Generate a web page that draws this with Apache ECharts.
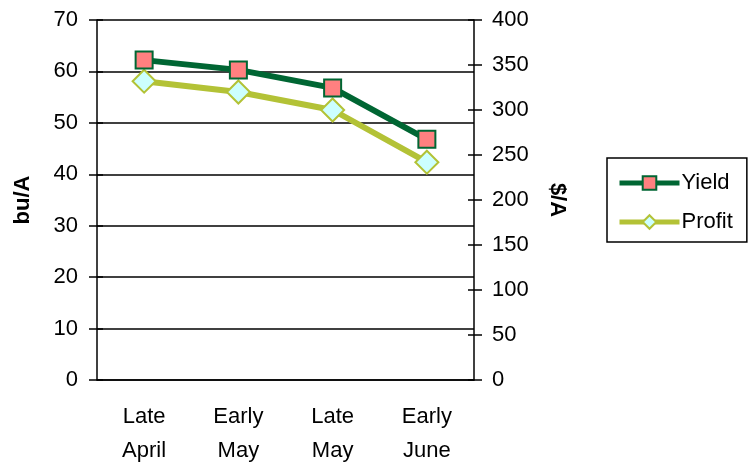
<!DOCTYPE html>
<html><head><meta charset="utf-8">
<script src="https://cdn.jsdelivr.net/npm/echarts@6/dist/echarts.min.js"></script>
<style>html,body{margin:0;padding:0;background:#fff}#c{width:751px;height:468px}</style>
</head><body><div id="c"></div>
<script>
var categories = ['Late\nApril', 'Early\nMay', 'Late\nMay', 'Early\nJune'];
var yieldValues = [62.2, 60.3, 56.8, 46.8];
var profitValues = [332, 320, 300, 242];
var leftTicks = {min: 0, max: 70, interval: 10};
var rightTicks = {min: 0, max: 400, interval: 50};
var font = 'Liberation Sans, Arial, sans-serif';
var chart = echarts.init(document.getElementById('c'));
var tickStyle = {color: '#000', width: 1.5};
function innerAxis(t, pos) {
  return {
    type: 'value', min: t.min, max: t.max, interval: t.interval, position: pos,
    axisLine: {show: false}, axisLabel: {show: false}, splitLine: {show: false},
    axisTick: {show: true, inside: true, length: 6, lineStyle: tickStyle}
  };
}
chart.setOption({
  animation: false,
  grid: {left: 97, right: 277, top: 20, bottom: 87},
  legend: {
    orient: 'vertical', left: 607, top: 158,
    padding: [12, 14, 7, 10], itemGap: 13,
    borderColor: '#000', borderWidth: 1.5,
    itemWidth: 60, itemHeight: 17,
    lineStyle: {width: 5},
    textStyle: {fontFamily: font, fontSize: 22, lineHeight: 26, color: '#000', padding: [0,0,0,-3]},
    data: ['Yield', 'Profit']
  },
  xAxis: {
    type: 'category', data: categories, boundaryGap: true,
    axisLine: {lineStyle: {color: '#000', width: 1.5}},
    axisTick: {length: 9, lineStyle: tickStyle},
    axisLabel: {fontFamily: font, fontSize: 22, color: '#000', lineHeight: 34, margin: 20}
  },
  yAxis: [{
    type: 'value', min: leftTicks.min, max: leftTicks.max, interval: leftTicks.interval, position: 'left',
    name: 'bu/A', nameLocation: 'middle', nameGap: 63,
    nameTextStyle: {fontFamily: font, fontSize: 22, fontWeight: 'bold', color: '#000'},
    axisLine: {show: true, lineStyle: {color: '#000', width: 1.5}},
    axisTick: {show: true, length: 8, lineStyle: tickStyle},
    axisLabel: {fontFamily: font, fontSize: 22, color: '#000', margin: 19},
    splitLine: {show: true, lineStyle: {color: '#000', width: 1.5}}
  }, {
    type: 'value', min: rightTicks.min, max: rightTicks.max, interval: rightTicks.interval, position: 'right',
    name: '$/A', nameLocation: 'middle', nameGap: 72, nameRotate: -90,
    nameTextStyle: {fontFamily: font, fontSize: 22, fontWeight: 'bold', color: '#000'},
    axisLine: {show: true, lineStyle: {color: '#000', width: 1.5}},
    axisTick: {show: true, length: 8, lineStyle: tickStyle},
    axisLabel: {fontFamily: font, fontSize: 22, color: '#000', margin: 18},
    splitLine: {show: false}
  }, innerAxis(leftTicks, 'left'), innerAxis(rightTicks, 'right')],
  series: [{
    name: 'Yield', type: 'line', yAxisIndex: 0, data: yieldValues,
    symbol: 'rect', symbolSize: 17,
    lineStyle: {color: '#006633', width: 6},
    itemStyle: {color: '#FF8080', borderColor: '#006633', borderWidth: 2},
    z: 3
  }, {
    name: 'Profit', type: 'line', yAxisIndex: 1, data: profitValues,
    symbol: 'diamond', symbolSize: 23,
    lineStyle: {color: '#B3C236', width: 6},
    itemStyle: {color: '#CCFFFF', borderColor: '#B3C236', borderWidth: 2},
    z: 2
  }]
});
</script></body></html>
